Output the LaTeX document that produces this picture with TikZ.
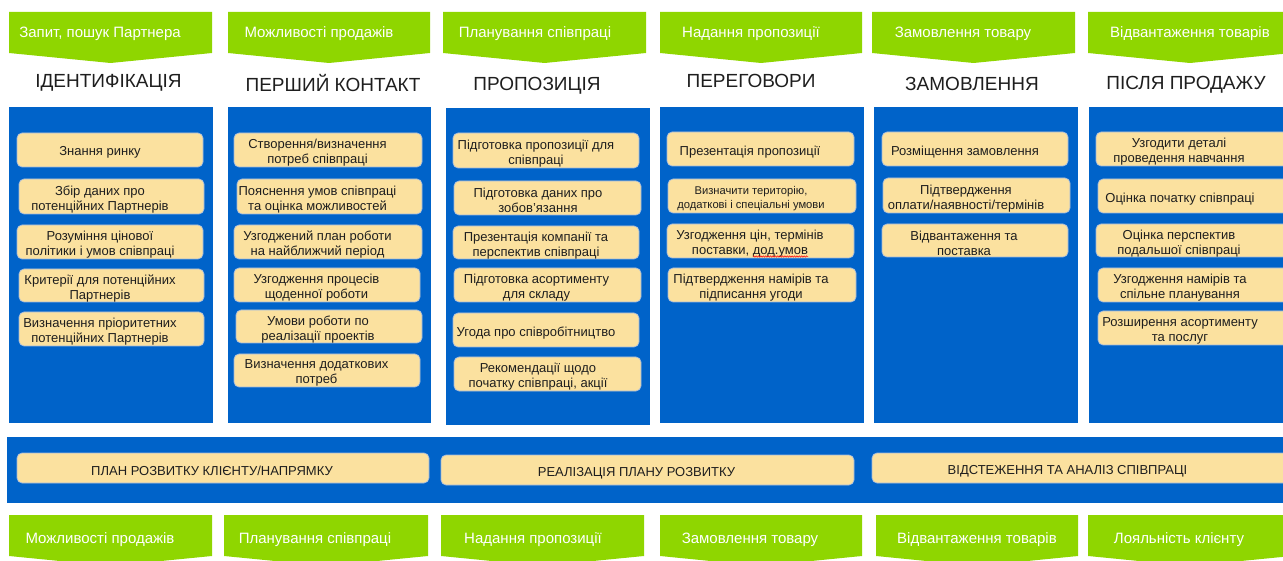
\documentclass[tikz,border=0pt]{standalone}
\usepackage{fontspec}
\setmainfont{Liberation Sans}
\usetikzlibrary{decorations.pathmorphing}

\definecolor{stageblue}{RGB}{0,99,201}
\definecolor{leafgreen}{RGB}{143,214,0}
\definecolor{cream}{RGB}{251,225,159}
\definecolor{creamedge}{RGB}{160,185,222}
\definecolor{inkdark}{RGB}{30,30,30}

\tikzset{
  panel/.style={fill=stageblue, draw=none},
  tag/.style={fill=leafgreen, draw=none},
  tagtext/.style={text=white, font=\fontsize{15}{17}\selectfont, inner sep=0pt, anchor=base},
  stagetitle/.style={text=inkdark, font=\fontsize{19}{22}\selectfont, inner sep=0pt, anchor=base},
  card/.style={fill=cream, draw=creamedge, line width=0.7pt, rounded corners=5pt},
  cardtext/.style={text=inkdark, font=\fontsize{13}{15}\selectfont, align=center, inner sep=0pt},
  smalltext/.style={font=\fontsize{11.2}{14}\selectfont},
  bartext/.style={font=\fontsize{13}{15}\selectfont},
  squiggle/.style={draw=red, line width=0.5pt, decorate,
    decoration={snake, amplitude=0.7pt, segment length=2.4pt}},
}

% green pointer tag: name, left, right, top, side bottom, text x, text baseline, text
\newcommand\greentag[8]{%
  \path[tag] (#2,#4) -- (#3,#4) -- (#3,#5) -- ({(#2+#3)/2},{#5+10}) -- (#2,#5) -- cycle;
  \node[tagtext] (#1) at (#6,#7) {#8};
}
% rounded cream card: [text style] name, x1, y1, x2, y2, text x, text
\newcommand\card[8][]{%
  \path[card] (#3,#4) rectangle (#5,#6);
  \node[cardtext,#1] (#2) at (#7,{(#4+#6)/2+2.8}) {#8};
}

\begin{document}
\begin{tikzpicture}[x=1pt, y=-1pt]
\path[use as bounding box] (0,0) rectangle (1283,561);
\clip (0,0) rectangle (1283,561);

% ---- stage tags on top
\greentag{t1}{9}{212}{12}{53}{100}{38}{Запит, пошук Партнера}
\greentag{t2}{228}{430}{12}{53}{319}{38}{Можливості продажів}
\greentag{t3}{443}{646}{12}{53}{535}{38}{Планування співпраці}
\greentag{t4}{660}{862}{12}{53}{751}{38}{Надання пропозиції}
\greentag{t5}{872}{1075}{12}{53}{963}{38}{Замовлення товару}
\greentag{t6}{1088}{1292}{12}{53}{1190}{38}{Відвантаження товарів}

% ---- stage titles
\node[stagetitle] (h1) at (108.5,88) {ІДЕНТИФІКАЦІЯ};
\node[stagetitle] (h2) at (333,91.7) {ПЕРШИЙ КОНТАКТ};
\node[stagetitle] (h3) at (537,90.7) {ПРОПОЗИЦІЯ};
\node[stagetitle] (h4) at (751,87.3) {ПЕРЕГОВОРИ};
\node[stagetitle] (h5) at (972,91) {ЗАМОВЛЕННЯ};
\node[stagetitle] (h6) at (1186,90) {ПІСЛЯ ПРОДАЖУ};

% ---- blue stage panels
\path[panel] (9,107) rectangle (213,423);
\path[panel] (228,107) rectangle (431,423);
\path[panel] (446,108) rectangle (650,425);
\path[panel] (660,107) rectangle (864,423);
\path[panel] (874,107) rectangle (1078,423);
\path[panel] (1089,107) rectangle (1292,423);

% ---- identification
\card{c11}{17}{133}{203}{167}{100}{Знання ринку}
\card{c12}{19}{179}{204}{214}{100}{Збір даних про\\потенційних Партнерів}
\card{c13}{17}{225}{203}{259}{100}{Розуміння цінової\\політики і умов співпраці}
\card{c14}{19}{269}{204}{302}{100}{Критерії для потенційних\\Партнерів}
\card{c15}{19}{312}{204}{346}{100}{Визначення пріоритетних\\потенційних Партнерів}

% ---- first contact
\card{c21}{234}{133}{422}{167}{317.5}{Створення/визначення\\потреб співпраці}
\card{c22}{237}{179}{422}{214}{317.5}{Пояснення умов співпраці\\та оцінка можливостей}
\card{c23}{234}{225}{422}{259}{317.5}{Узгоджений план роботи\\на найближчий період}
\card{c24}{234}{268}{420}{302}{316.5}{Узгодження процесів\\щоденної роботи}
\card{c25}{236}{310}{422}{343}{318}{Умови роботи по\\реалізації проектів}
\card{c26}{234}{354}{420}{387}{316.5}{Визначення додаткових\\потреб}

% ---- proposal
\card{c31}{453}{133}{639}{168}{536}{Підготовка пропозиції для\\співпраці}
\card{c32}{454}{181}{641}{215}{538}{Підготовка даних про\\зобов'язання}
\card{c33}{453}{226}{639}{259}{536}{Презентація компанії та\\перспектив співпраці}
\card{c34}{454}{268}{641}{302}{536.5}{Підготовка асортименту\\для складу}
\card{c35}{453}{313}{639}{347}{536}{Угода про співробітництво}
\card{c36}{454}{357}{641}{391}{538}{Рекомендації щодо\\початку співпраці, акції}

% ---- negotiations
\card{c41}{667}{132}{854}{166}{750}{Презентація пропозиції}
\card[smalltext]{c42}{668}{179}{856}{213}{751}{Визначити територію,\\додаткові і спеціальні умови}
\card{c43}{667}{224}{854}{258}{750}{Узгодження цін, термінів\\поставки, дод.умов}
\card{c44}{668}{268}{856}{302}{751}{Підтвердження намірів та\\підписання угоди}
\path[squiggle] (753,256.5) -- (808,256.5);

% ---- order
\card{c51}{882}{132}{1068}{166}{965}{Розміщення замовлення}
\card{c52}{883}{178}{1070}{213}{966}{Підтвердження\\оплати/наявності/термінів}
\card{c53}{882}{224}{1068}{257}{964}{Відвантаження та\\поставка}

% ---- after sales
\card{c61}{1096}{132}{1292}{166}{1179}{Узгодити деталі\\проведення навчання}
\card{c62}{1098}{179}{1292}{213}{1180}{Оцінка початку співпраці}
\card{c63}{1096}{224}{1292}{257}{1179}{Оцінка перспектив\\подальшої співпраці}
\card{c64}{1098}{268}{1292}{302}{1180}{Узгодження намірів та\\спільне планування}
\card{c65}{1098}{311}{1292}{345}{1180}{Розширення асортименту\\та послуг}

% ---- development band
\path[panel] (7,437) rectangle (1292,503);
\card[bartext]{b1}{17}{453}{429}{483}{212}{ПЛАН РОЗВИТКУ КЛІЄНТУ/НАПРЯМКУ}
\card[bartext]{b2}{441}{455}{854}{485}{636.5}{РЕАЛІЗАЦІЯ ПЛАНУ РОЗВИТКУ}
\card[bartext]{b3}{872}{453}{1292}{483}{1067.5}{ВІДСТЕЖЕННЯ ТА АНАЛІЗ СПІВПРАЦІ}

% ---- outcome tags at the bottom
\greentag{o1}{9}{212}{515}{556}{100}{543}{Можливості продажів}
\greentag{o2}{224}{428}{515}{556}{315}{543}{Планування співпраці}
\greentag{o3}{441}{644}{515}{556}{533}{543}{Надання пропозиції}
\greentag{o4}{660}{862}{515}{556}{750}{543}{Замовлення товару}
\greentag{o5}{876}{1078}{515}{556}{977}{543}{Відвантаження товарів}
\greentag{o6}{1088}{1292}{515}{556}{1179}{543}{Лояльність клієнту}
\end{tikzpicture}
\end{document}
